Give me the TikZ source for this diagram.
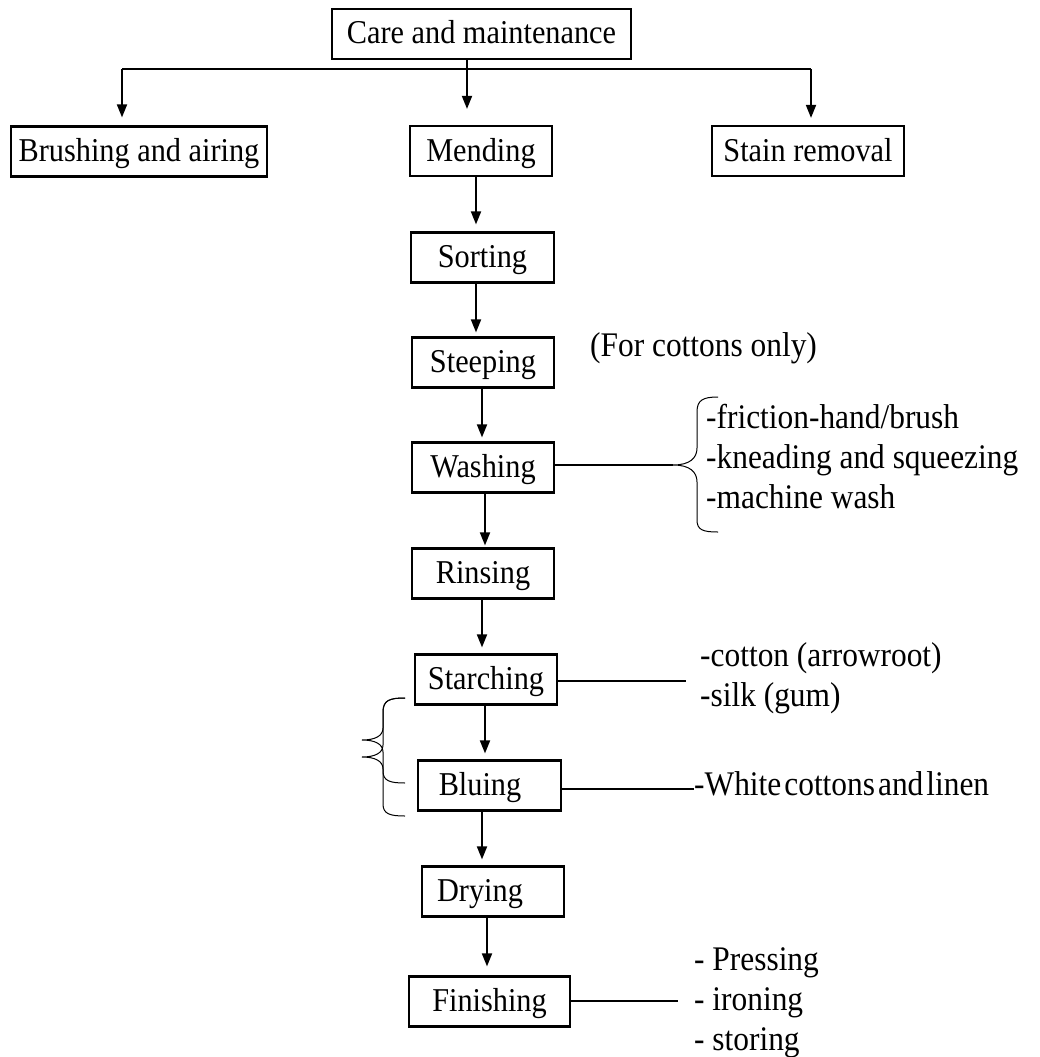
\documentclass[tikz,border=0pt]{standalone}
\usepackage{fontspec}
\setmainfont{Liberation Serif}[FakeStretch=0.91]
\usetikzlibrary{arrows.meta,calc}
\begin{document}
\begin{tikzpicture}[x=1pt,y=-1pt,
  box/.style={draw, line width=2.2pt, minimum height=50pt, inner sep=0pt,
    font=\fontsize{33.3}{40}\selectfont, text height=24pt, text depth=4pt},
  lbl/.style={anchor=west, inner sep=0pt, font=\fontsize{34.5}{40}\selectfont,
    text height=24pt, text depth=8pt},
  conn/.style={line width=1.8pt},
  arr/.style={conn, -{Triangle[length=13pt,width=10pt]}},
  brace/.style={line width=1pt}]
\useasboundingbox (0,0) rectangle (1039,1057);

% boxes
\node[box, minimum width=299pt] (care) at (481.5,34) {Care and maintenance};
\node[box, minimum width=256pt] (brush) at (139,151.5) {Brushing and airing};
\node[box, minimum width=142pt] (mend) at (481,151) {Mending};
\node[box, minimum width=192pt] (stain) at (808,151) {Stain removal};
\node[box, minimum width=143pt] (sort) at (482.5,257.5) {Sorting};
\node[box, minimum width=142pt] (steep) at (483,362.5) {Steeping};
\node[box, minimum width=142pt] (wash) at (483,467.5) {Washing};
\node[box, minimum width=142pt] (rinse) at (483,573.5) {Rinsing};
\node[box, minimum width=142pt] (starch) at (486,679.5) {Starching};
\node[box, minimum width=143pt] (blue) at (489.5,785.5) {Bluing\hspace*{19pt}};
\node[box, minimum width=142pt] (dry) at (493,891.5) {Drying\hspace*{26pt}};
\node[box, minimum width=161pt] (finish) at (489.5,1001.5) {Finishing};

% top distribution
\coordinate (bar) at (467,69);
\coordinate (barL) at (122,69);
\coordinate (barR) at (811,69);
\draw[conn] (barL) -- (barR);
\draw[arr] (care.south -| bar) -- (bar) -- ([yshift=16pt]mend.north -| bar);
\draw[arr] (barL) -- ([yshift=8pt]brush.north -| barL);
\draw[arr] (barR) -- ([yshift=7pt]stain.north -| barR);

% main chain
\draw[arr] ([xshift=-5pt]mend.south) -- ([xshift=-6.5pt,yshift=7pt]sort.north);
\draw[arr] ([xshift=-6.5pt]sort.south) -- ([xshift=-7pt,yshift=4pt]steep.north);
\draw[arr] ([xshift=-1pt]steep.south) -- ([xshift=-1pt,yshift=4pt]wash.north);
\draw[arr] ([xshift=2pt]wash.south) -- ([xshift=2pt,yshift=2pt]rinse.north);
\draw[arr] ([xshift=-1pt]rinse.south) -- ([xshift=-4pt,yshift=6pt]starch.north);
\draw[arr] ([xshift=-1pt]starch.south) -- ([xshift=-4.5pt,yshift=6pt]blue.north);
\draw[arr] ([xshift=-7.5pt]blue.south) -- ([xshift=-11pt,yshift=6pt]dry.north);
\draw[arr] ([xshift=-6pt]dry.south) -- ([xshift=-2.5pt,yshift=9pt]finish.north);

% washing side
\coordinate (wtip) at (673,465);
\draw[conn] (wash.east |- wtip) -- (wtip);
\draw[brace] (718,397) .. controls (703,397) and (697,400) .. (697,412)
  -- (697,448) .. controls (697,458) and (690,465) .. (wtip)
  .. controls (690,465) and (697,472) .. (697,482)
  -- (697,520) .. controls (697,530) and (703,532) .. (718,532);
\node[lbl] (fco) at (590,348) {(For cottons only)};
\node[lbl] (w1) at (706,420) {-friction-hand/brush};
\node[lbl] (w2) at (706,460) {-kneading and squeezing};
\node[lbl] (w3) at (706,500) {-machine wash};

% starching side
\coordinate (send) at (686,681);
\draw[conn] (starch.east |- send) -- (send);
\node[lbl] (s1) at (700,658) {-cotton (arrowroot)};
\node[lbl] (s2) at (700,698) {-silk (gum)};

% bluing side
\coordinate (bend) at (694,789);
\draw[conn] (blue.east |- bend) -- (bend);
\node[lbl] (b1) at (694,787) {-White\hspace{3pt}cottons\hspace{3pt}and\hspace{3pt}linen};

% finishing side
\coordinate (fend) at (678,1001);
\draw[conn] (finish.east |- fend) -- (fend);
\node[lbl] (f1) at (694,962) {- Pressing};
\node[lbl] (f2) at (694,1002) {- ironing};
\node[lbl] (f3) at (694,1042) {- storing};

% left double brace
\coordinate (ta) at (362,740);
\coordinate (tb) at (362,757);
\draw[brace] (405,698) .. controls (390,698) and (383,700) .. (383,712)
  -- (383,728) .. controls (383,736) and (375,740) .. (ta)
  .. controls (375,740) and (383,744) .. (383,752)
  -- (383,771) .. controls (383,781) and (390,783) .. (405,783);
\draw[brace] (405,698) .. controls (390,698) and (383,700) .. (383,712)
  -- (383,745) .. controls (383,753) and (375,757) .. (tb)
  .. controls (375,757) and (383,761) .. (383,769)
  -- (383,804) .. controls (383,814) and (390,816) .. (405,816);
\end{tikzpicture}
\end{document}
